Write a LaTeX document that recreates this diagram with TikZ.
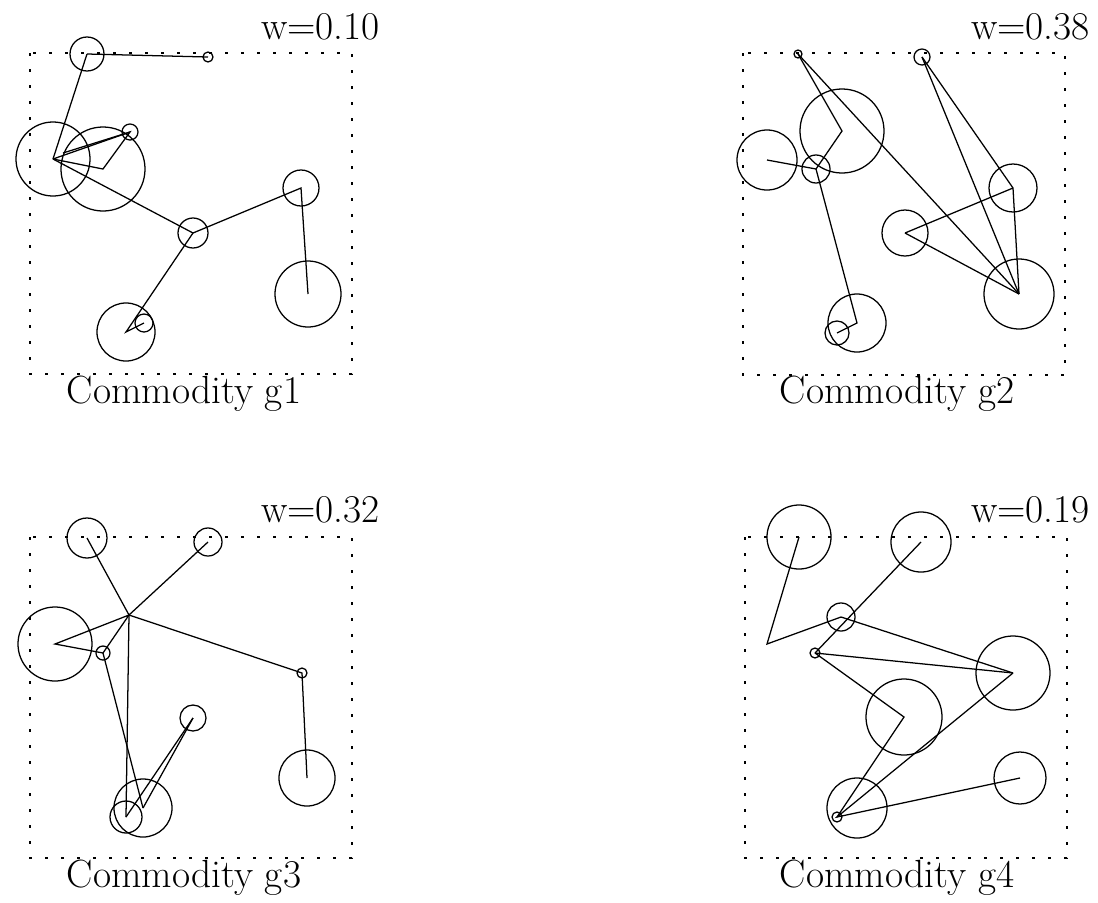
\documentclass[tikz,border=0pt]{standalone}
\usepackage{tikz}
\usetikzlibrary{positioning}

\begin{document}
\begin{tikzpicture}[x=0.025cm, y=-0.025cm,
    cust/.style={circle, draw, line width=0.9pt, inner sep=0pt,
                 minimum size=#1*0.05cm},
    route/.style={line width=0.9pt},
    frame/.style={line width=2.1pt, dash pattern=on 2.1pt off 9.28pt},
    lbl/.style={font=\fontsize{28}{34}\selectfont, inner sep=0pt}
  ]
  \useasboundingbox (0,0) rectangle (1098,902);

  % Frames
  \draw[frame] (30,53)   rectangle (352,374);
  \draw[frame] (743,53)  rectangle (1065,375);
  \draw[frame] (30,537)  rectangle (352,858);
  \draw[frame] (745,537) rectangle (1067,858);

  % Commodity g1
  \node[cust=17] (g1A) at (87,54)   {};
  \node[cust=5]  (g1B) at (208,57)  {};
  \node[cust=37] (g1C) at (53,159)  {};
  \node[cust=42] (g1D) at (103,169) {};
  \node[cust=8]  (g1E) at (130,132) {};
  \node[cust=15] (g1F) at (193,233) {};
  \node[cust=18] (g1G) at (301,188) {};
  \node[cust=33] (g1H) at (308,294) {};
  \node[cust=29] (g1I) at (126,332) {};
  \node[cust=9]  (g1J) at (144,323) {};
  \coordinate (g1K) at (63,153);
  \draw[route] (g1A.center) -- (g1B.center);
  \draw[route] (g1A.center) -- (g1C.center);
  \draw[route] (g1C.center) -- (g1E.center) -- (g1D.center) -- (g1C.center);
  \draw[route] (g1K) -- (g1E.center);
  \draw[route] (g1C.center) -- (g1F.center) -- (g1G.center) -- (g1H.center);
  \draw[route] (g1F.center) -- (g1I.center) -- (g1J.center);

  % Commodity g2
  \node[cust=4]  (g2A) at (798,54)   {};
  \node[cust=8]  (g2B) at (922,57)   {};
  \node[cust=42] (g2C) at (842,131)  {};
  \node[cust=30] (g2D) at (767,160)  {};
  \node[cust=14] (g2E) at (816,169)  {};
  \node[cust=24] (g2F) at (1013,188) {};
  \node[cust=23] (g2G) at (905,233)  {};
  \node[cust=35] (g2H) at (1019,294) {};
  \node[cust=29] (g2I) at (857,323)  {};
  \node[cust=12] (g2J) at (837,333)  {};
  \draw[route] (g2A.center) -- (g2C.center) -- (g2E.center);
  \draw[route] (g2D.center) -- (g2E.center);
  \draw[route] (g2A.center) -- (g2H.center);
  \draw[route] (g2E.center) -- (g2I.center) -- (g2J.center);
  \draw[route] (g2B.center) -- (g2F.center) -- (g2H.center);
  \draw[route] (g2B.center) -- (g2H.center);
  \draw[route] (g2G.center) -- (g2F.center);
  \draw[route] (g2G.center) -- (g2H.center);

  % Commodity g3
  \node[cust=20] (g3A) at (87,538)  {};
  \node[cust=14] (g3B) at (208,542) {};
  \coordinate (g3K) at (129,615);
  \node[cust=37] (g3C) at (55,644)  {};
  \node[cust=7]  (g3D) at (103,653) {};
  \node[cust=5]  (g3E) at (302,673) {};
  \node[cust=13] (g3F) at (193,718) {};
  \node[cust=28] (g3G) at (307,778) {};
  \node[cust=29] (g3H) at (143,808) {};
  \node[cust=16] (g3I) at (126,817) {};
  \draw[route] (g3A.center) -- (g3K);
  \draw[route] (g3B.center) -- (g3K);
  \draw[route] (g3K) -- (g3C.center) -- (g3D.center) -- (g3K);
  \draw[route] (g3K) -- (g3I.center);
  \draw[route] (g3K) -- (g3E.center) -- (g3G.center);
  \draw[route] (g3D.center) -- (g3H.center);
  \draw[route] (g3I.center) -- (g3F.center);
  \draw[route] (g3H.center) -- (g3F.center);

  % Commodity g4
  \node[cust=32] (g4A) at (799,537)  {};
  \node[cust=30] (g4B) at (921,542)  {};
  \coordinate (g4K) at (767,644);
  \node[cust=14] (g4C) at (841,617)  {};
  \node[cust=5]  (g4D) at (815,653)  {};
  \node[cust=37] (g4E) at (1013,673) {};
  \node[cust=38] (g4F) at (904,717)  {};
  \node[cust=26] (g4G) at (1020,778) {};
  \node[cust=30] (g4H) at (857,808)  {};
  \node[cust=5]  (g4I) at (837,817)  {};
  \draw[route] (g4A.center) -- (g4K) -- (g4C.center) -- (g4E.center);
  \draw[route] (g4B.center) -- (g4D.center);
  \draw[route] (g4D.center) -- (g4E.center);
  \draw[route] (g4D.center) -- (g4F.center) -- (g4I.center);
  \draw[route] (g4E.center) -- (g4I.center) -- (g4G.center);

  % Labels
  \node[lbl, anchor=base east] (w1) at (380,39)  {w=0.10};
  \node[lbl, anchor=base east] (w2) at (1090,39) {w=0.38};
  \node[lbl, anchor=base east] (w3) at (380,522) {w=0.32};
  \node[lbl, anchor=base east] (w4) at (1090,522) {w=0.19};
  \node[lbl, anchor=base] (n1) at (184,403) {Commodity g1};
  \node[lbl, anchor=base] (n2) at (897,403) {Commodity g2};
  \node[lbl, anchor=base] (n3) at (184,887) {Commodity g3};
  \node[lbl, anchor=base] (n4) at (897,887) {Commodity g4};
\end{tikzpicture}
\end{document}
